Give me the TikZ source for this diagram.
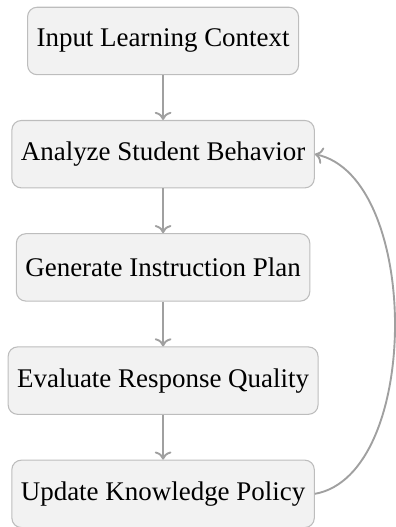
\documentclass[tikz,border=0pt]{standalone}
\usepackage{fontspec}
\setmainfont{Liberation Serif}
\usetikzlibrary{arrows.meta}
\definecolor{boxfill}{HTML}{F2F2F2}
\definecolor{boxline}{HTML}{BDBDBD}
\definecolor{flowline}{HTML}{A0A0A0}
\tikzset{
  stepbox/.style={draw=boxline, line width=0.4pt, fill=boxfill,
    rounded corners=3.5pt, minimum height=25pt, inner sep=3.33pt,
    font=\fontsize{10pt}{12pt}\selectfont},
  flow/.style={draw=flowline, line width=0.7pt,
    -{To[length=3pt,width=6.2pt]}}
}
\begin{document}
\begin{tikzpicture}[x=1pt,y=1pt]
  \useasboundingbox (0,0) rectangle (146.9,195.5);
  \node[stepbox] (input)    at (60.5,180.3) {Input Learning Context};
  \node[stepbox] (analyze)  at (60.5,138.3) {Analyze Student Behavior};
  \node[stepbox] (generate) at (60.5,96.3)  {Generate Instruction Plan};
  \node[stepbox] (evaluate) at (60.5,54.3)  {Evaluate Response Quality};
  \node[stepbox] (update)   at (60.5,12.3)  {Update Knowledge Policy};

  \draw[flow] (input) -- (analyze);
  \draw[flow] (analyze) -- (generate);
  \draw[flow] (generate) -- (evaluate);
  \draw[flow] (evaluate) -- (update);
  \draw[flow] (update.east) to[out=10,in=-12,looseness=0.82] (analyze.east);
\end{tikzpicture}
\end{document}
